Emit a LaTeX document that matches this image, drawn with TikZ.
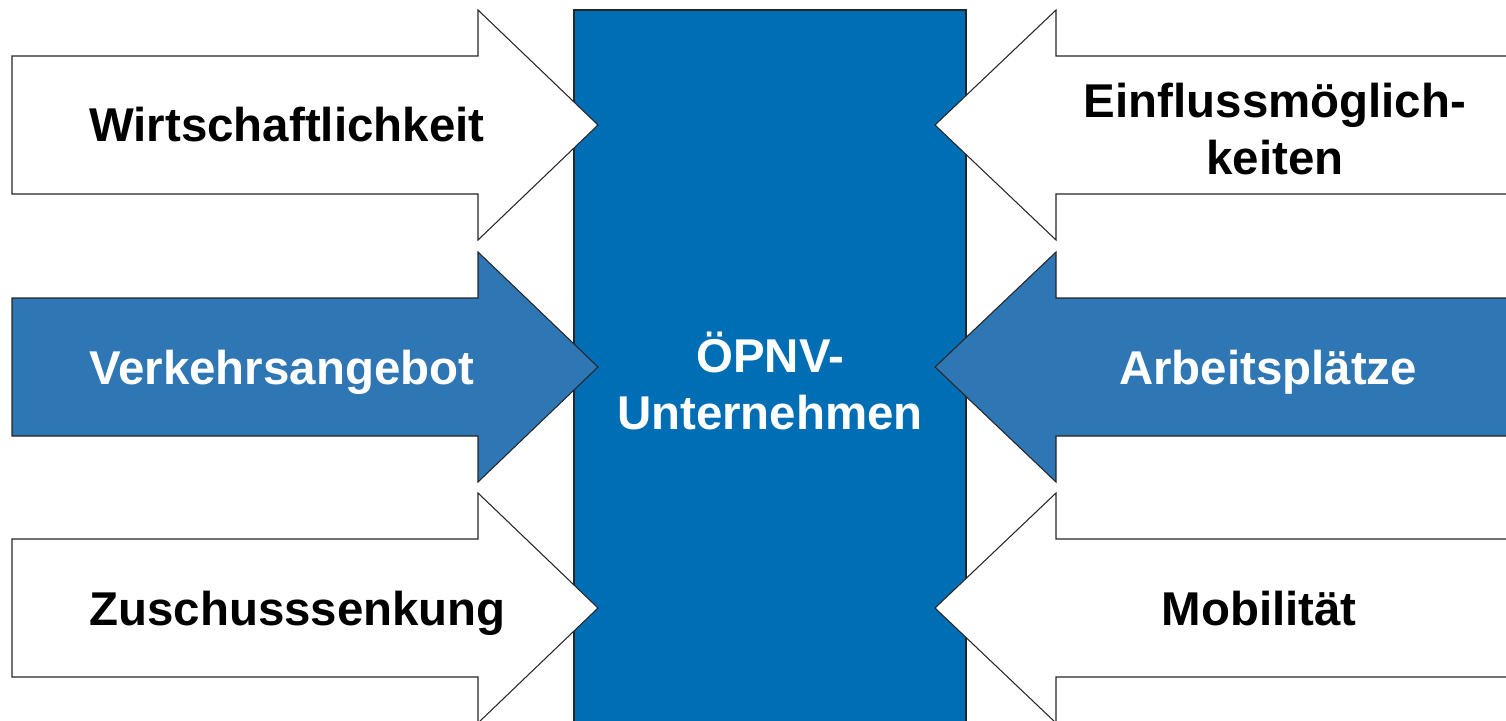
\documentclass[tikz,border=0pt]{standalone}
\usepackage{fontspec}
\setmainfont{Liberation Sans}

\definecolor{oepnvblue}{RGB}{0,110,180}
\definecolor{arrowblue}{RGB}{47,118,180}

\begin{document}
\begin{tikzpicture}[x=0.02cm, y=-0.02cm, font=\bfseries\fontsize{27}{32.4}\selectfont,
  outline/.style={draw=black!85, line width=0.6pt, line join=miter},
  lefttext/.style={inner sep=0pt, anchor=base west},
  righttext/.style={inner sep=0pt, anchor=base}]
  \useasboundingbox (0,0) rectangle (1506,720);
  \clip (0,0) rectangle (1506,720);

  % the company block in the middle
  \draw[outline, fill=oepnvblue] (574,10) rectangle (966,740);

  % arrows from the left, pointing right
  \foreach \y/\col in {125/white, 367/arrowblue, 608/white} {
    \draw[outline, fill=\col] (12,\y-69) -- (478,\y-69) -- (478,\y-115) -- (598,\y)
      -- (478,\y+115) -- (478,\y+69) -- (12,\y+69) -- cycle;
  }

  % arrows from the right, pointing left
  \foreach \y/\col in {125/white, 367/arrowblue, 608/white} {
    \draw[outline, fill=\col] (1520,\y-69) -- (1056,\y-69) -- (1056,\y-115) -- (935,\y)
      -- (1056,\y+115) -- (1056,\y+69) -- (1520,\y+69) -- cycle;
  }

  % labels
  \node[align=center, text=white] (oepnv) at (770,381) {ÖPNV-\\Unternehmen};

  \node[lefttext] (wirt) at (89,141) {Wirtschaftlichkeit};
  \node[lefttext, text=white] (verk) at (89,384) {Verkehrsangebot};
  \node[lefttext] (zusch) at (89,625) {Zuschusssenkung};

  \node[align=center] (einfl) at (1275,129) {Einflussmöglich-\\keiten};
  \node[righttext, text=white] (arb) at (1268,384) {Arbeitsplätze};
  \node[righttext] (mob) at (1259,625) {Mobilität};
\end{tikzpicture}
\end{document}
